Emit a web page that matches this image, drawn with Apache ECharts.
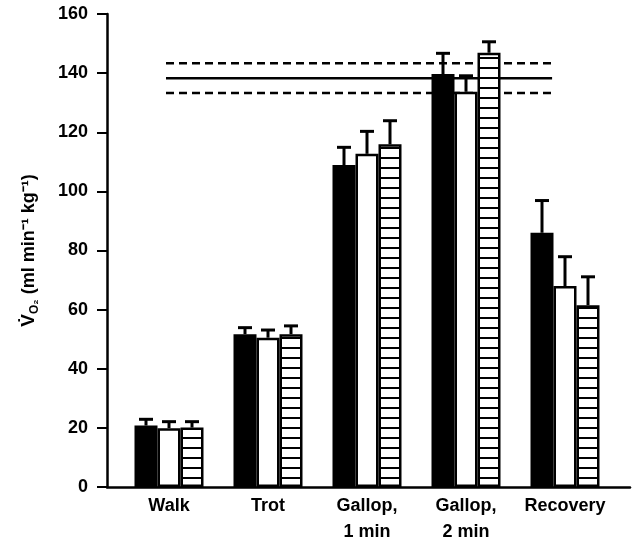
<!DOCTYPE html>
<html>
<head>
<meta charset="utf-8">
<script src="https://cdn.jsdelivr.net/npm/echarts@6/dist/echarts.min.js"></script>
<style>html,body{margin:0;padding:0;background:#fff}#c{width:637px;height:542px}</style>
</head>
<body>
<div id="c"></div>
<script>
// ---- data ----
var categories = ['Walk', 'Trot', 'Gallop,\n1 min', 'Gallop,\n2 min', 'Recovery'];
var blackMean = [20.8, 51.7, 108.9, 139.7, 86.0];
var blackErr  = [2.1, 2.2, 6.0, 7.0, 10.9];
var whiteMean = [19.9, 50.5, 112.7, 133.7, 68.0];
var whiteErr  = [2.2, 2.6, 7.6, 5.4, 9.9];
var hatchMean = [20.1, 51.7, 115.9, 146.9, 61.5];
var hatchErr  = [2.0, 2.8, 8.0, 3.7, 9.6];
var refMean = 138.3;
var refSpread = 5.0;
var refRange = [-0.03, 3.87]; // in category-index units
var yTicks = [0, 20, 40, 60, 80, 100, 120, 140, 160];

// ---- styles ----
var FONT = '"Liberation Sans", Arial, Helvetica, sans-serif';
var BAR_W = 23;
var offsets = [-BAR_W, 0, BAR_W];

// hatch pattern
var pc = document.createElement('canvas');
pc.width = 10; pc.height = 10;
var pctx = pc.getContext('2d');
pctx.fillStyle = '#fff'; pctx.fillRect(0, 0, 10, 10);
pctx.fillStyle = '#000'; pctx.fillRect(0, 7, 10, 2);

var chart = echarts.init(document.getElementById('c'), null, {renderer: 'canvas'});

function errSeries(means, errs, k) {
  return {
    type: 'custom',
    xAxisIndex: 0, yAxisIndex: 0,
    z: 1,
    data: means.map(function (m, i) { return [i, m, errs[i]]; }),
    renderItem: function (params, api) {
      var idx = api.value(0), m = api.value(1), e = api.value(2);
      var base = api.coord([idx, m]);
      var top = api.coord([idx, m + e]);
      var x = base[0] + offsets[k];
      return {
        type: 'group',
        children: [
          {type: 'line', shape: {x1: x, y1: base[1], x2: x, y2: top[1]}, style: {stroke: '#000', lineWidth: 3}},
          {type: 'line', shape: {x1: x - 7, y1: top[1], x2: x + 7, y2: top[1]}, style: {stroke: '#000', lineWidth: 3}}
        ]
      };
    }
  };
}

function refLine(v, dashed) {
  return {
    type: 'line',
    xAxisIndex: 1, yAxisIndex: 1,
    data: [[refRange[0], v], [refRange[1], v]],
    symbol: 'none',
    silent: true,
    z: 0,
    lineStyle: {color: '#000', width: 2.5, type: dashed ? [8, 5] : 'solid'}
  };
}

var option = {
  animation: false,
  backgroundColor: '#fff',
  grid: [
    {left: 119.5, right: 22.5, top: 14, bottom: 55, containLabel: false, outerBoundsMode: 'none'},
    {left: 107, right: 7, top: 14, bottom: 55, containLabel: false, outerBoundsMode: 'none'}
  ],
  xAxis: [
    {
      type: 'category', gridIndex: 0, data: categories,
      axisLine: {show: false}, axisTick: {show: false},
      axisLabel: {interval: 0, hideOverlap: false, color: '#000', fontFamily: FONT, fontSize: 18, fontWeight: 'bold', lineHeight: 26, margin: 6}
    },
    {
      type: 'value', gridIndex: 1, min: -0.626, max: 4.657,
      axisLine: {show: true, onZero: false, lineStyle: {color: '#000', width: 2.5}},
      axisTick: {show: false}, axisLabel: {show: false}, splitLine: {show: false}
    }
  ],
  yAxis: [
    {type: 'value', gridIndex: 0, min: 0, max: 160, show: false},
    {
      type: 'value', gridIndex: 1, min: 0, max: 160, interval: 20,
      axisLine: {show: true, onZero: false, lineStyle: {color: '#000', width: 2.5}},
      axisTick: {show: true, inside: false, length: 10, lineStyle: {color: '#000', width: 2}},
      axisLabel: {color: '#000', fontFamily: FONT, fontSize: 18, fontWeight: 'bold', margin: 19,
        formatter: function (v) { return yTicks.indexOf(v) >= 0 ? String(v) : ''; }},
      splitLine: {show: false},
      name: '{v|V\u0307}{o|O\u2082}{t| (ml min\u207B\u00B9 kg\u207B\u00B9)}',
      nameLocation: 'middle', nameRotate: 90, nameGap: 66,
      nameTextStyle: {
        fontFamily: FONT, color: '#000',
        rich: {
          v: {fontFamily: FONT, fontSize: 19, fontWeight: 'bold', color: '#000', lineHeight: 24},
          o: {fontFamily: FONT, fontSize: 12, fontWeight: 'bold', color: '#000', verticalAlign: 'bottom', lineHeight: 24, padding: [9, 0, 0, 0]},
          t: {fontFamily: FONT, fontSize: 18, fontWeight: 'bold', color: '#000', lineHeight: 24}
        }
      }
    }
  ],
  series: [
    refLine(refMean, false),
    refLine(refMean + refSpread, true),
    refLine(refMean - refSpread, true),
    {
      type: 'bar', xAxisIndex: 0, yAxisIndex: 0, data: blackMean,
      barWidth: BAR_W, barGap: '0%', z: 2,
      itemStyle: {color: '#000', borderColor: '#000', borderWidth: 2}
    },
    {
      type: 'bar', xAxisIndex: 0, yAxisIndex: 0, data: whiteMean,
      barWidth: BAR_W, barGap: '0%', z: 2,
      itemStyle: {color: '#fff', borderColor: '#000', borderWidth: 2.5}
    },
    {
      type: 'bar', xAxisIndex: 0, yAxisIndex: 0, data: hatchMean,
      barWidth: BAR_W, barGap: '0%', z: 2,
      itemStyle: {color: {image: pc, repeat: 'repeat'}, borderColor: '#000', borderWidth: 2.5}
    },
    errSeries(blackMean, blackErr, 0),
    errSeries(whiteMean, whiteErr, 1),
    errSeries(hatchMean, hatchErr, 2)
  ]
};
chart.setOption(option);
</script>
</body>
</html>
